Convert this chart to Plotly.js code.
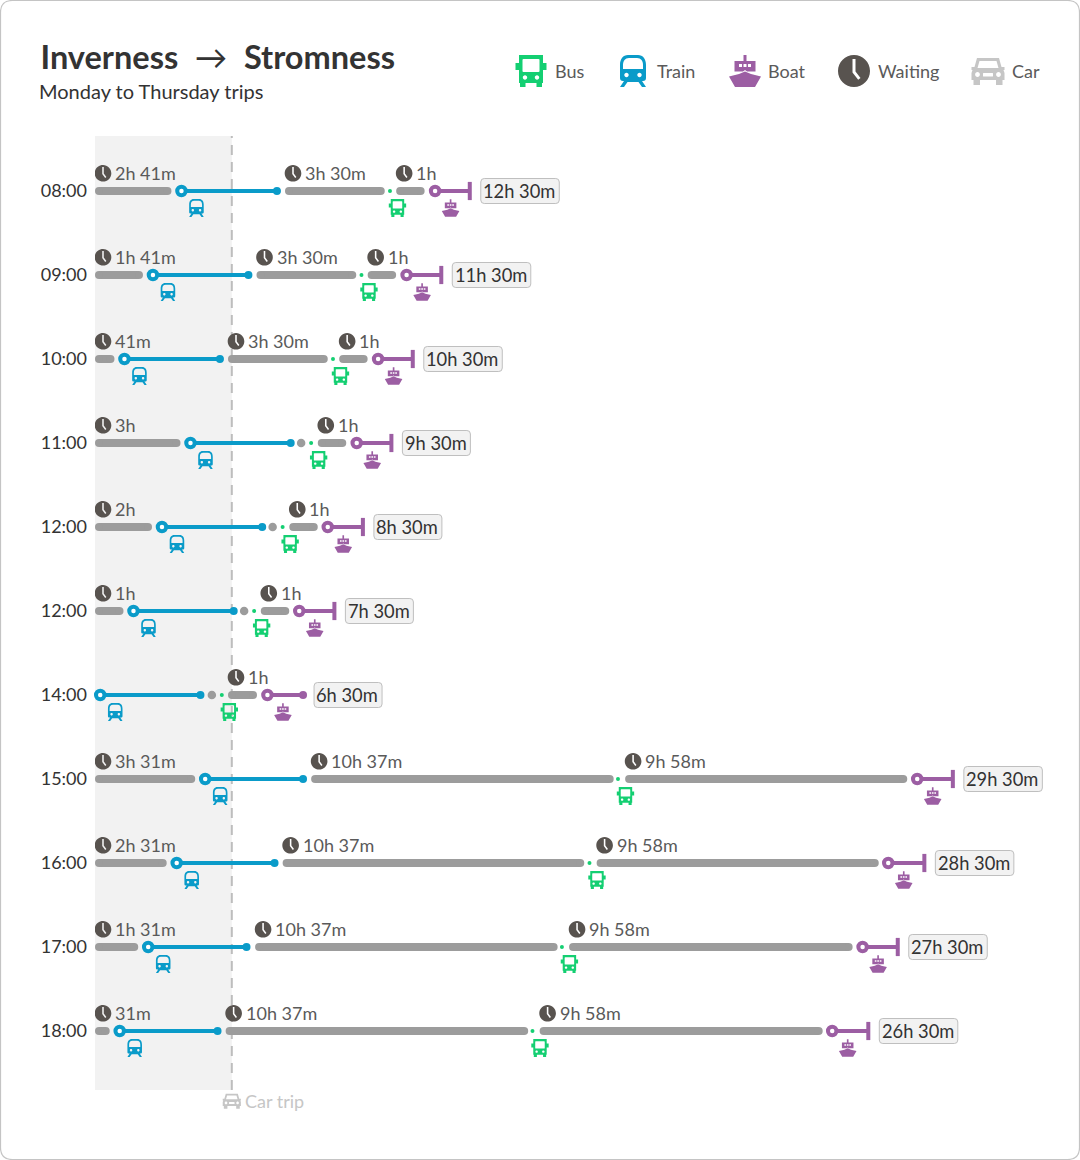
<!DOCTYPE html>
<html><head><meta charset="utf-8">
<script src="https://cdn.plot.ly/plotly-3.0.1.min.js"></script>
<style>html,body{margin:0;padding:0;background:#fff}#c{width:1080px;height:1160px}</style>
</head><body><div id="c"></div>
<script>
// ---- data (minutes since the start of each row) ----
const departures = ['08:00','09:00','10:00','11:00','12:00','12:00','14:00','15:00','16:00','17:00','18:00'];
const firstWaitEnd = [161,101,41,180,120,60,null,211,151,91,31];
const firstWaitLabel = ['2h 41m','1h 41m','41m','3h','2h','1h',null,'3h 31m','2h 31m','1h 31m','31m'];
const trainStart = [182,122,62,201,141,81,11,232,172,112,52];
const trainEnd = [383,323,263,412,352,292,222,438,378,319,258];
const midWaitStart = [400,340,280,null,null,null,null,455,395,337,275];
const midWaitEnd = [610,550,490,null,null,null,null,1092,1030,974,912];
const midWaitLabel = ['3h 30m','3h 30m','3h 30m',null,null,null,null,'10h 37m','10h 37m','10h 37m','10h 37m'];
const transferDot = [null,null,null,434,374,314,246,null,null,null,null];
const busDot = [621,561,501,455,395,335,267,1101,1041,983,921];
const lastWaitStart = [634,574,514,469,409,349,280,1116,1056,998,936];
const lastWaitEnd = [694,634,574,529,469,409,341,1710,1650,1595,1532];
const lastWaitLabel = ['1h','1h','1h','1h','1h','1h','1h','9h 58m','9h 58m','9h 58m','9h 58m'];
const boatStart = [716,656,596,551,490,430,363,1731,1670,1616,1552];
const boatEnd = [789,729,669,624,564,504,438,1806,1746,1690,1628];
const boatOpenEnd = [false,false,false,false,false,false,true,false,false,false,false];
const totals = ['12h 30m','11h 30m','10h 30m','9h 30m','8h 30m','7h 30m','6h 30m','29h 30m','28h 30m','27h 30m','26h 30m'];
const carTrip = 288;
const legendNames = ['Bus','Train','Boat','Waiting','Car'];

// ---- palette ----
const cBus='#14cf72', cTrain='#0a9bc9', cBoat='#9c5ea3', cClock='#58534f', cCar='#c6c6c6', cWait='#9c9c9c';
const cText='#5a5a5a', cDark='#333333';

// ---- geometry ----
const W=1080,H=1160,ML=95;
const pxPerMin=0.475;
const rowTop=191,rowStep=84;
const xr=[0,(W-ML)/pxPerMin];
const yr=[(H-rowTop)/rowStep,-rowTop/rowStep];
const capMin=4/pxPerMin;
const rows=departures.map((_,i)=>i);
const px=x=>(x-ML)/(W-ML), py=y=>1-y/H;

// ---- icon outlines, in a 32-unit box centred on 0,0, y upward ----
const K=0.5523;
const circ=(cx,cy,r)=>`M ${cx+r} ${cy} C ${cx+r} ${cy+K*r} ${cx+K*r} ${cy+r} ${cx} ${cy+r} C ${cx-K*r} ${cy+r} ${cx-r} ${cy+K*r} ${cx-r} ${cy} C ${cx-r} ${cy-K*r} ${cx-K*r} ${cy-r} ${cx} ${cy-r} C ${cx+K*r} ${cy-r} ${cx+r} ${cy-K*r} ${cx+r} ${cy} Z `;
const poly=(...p)=>'M '+p.map(q=>q.join(' ')).join(' L ')+' Z ';
const rrect=(x0,y0,x1,y1,r)=>`M ${x0+r} ${y0} L ${x1-r} ${y0} Q ${x1} ${y0} ${x1} ${y0+r} L ${x1} ${y1-r} Q ${x1} ${y1} ${x1-r} ${y1} L ${x0+r} ${y1} Q ${x0} ${y1} ${x0} ${y1-r} L ${x0} ${y0+r} Q ${x0} ${y0} ${x0+r} ${y0} Z `;
const ICON={
 bus: poly([-12,16],[12,16],[12,8],[15.5,8],[15.5,1],[12,1],[12,-12],[11,-12],[11,-16],[5.5,-16],[5.5,-12],[-5.5,-12],[-5.5,-16],[-11,-16],[-11,-12],[-12,-12],[-12,1],[-15.5,1],[-15.5,8],[-12,8])
    +rrect(-8.5,-1,8.5,12,1)+circ(-6,-6.5,2.2)+circ(6,-6.5,2.2),
 train: 'M -13 6 C -13 12 -10 16 -5 16 L 5 16 C 10 16 13 12 13 6 L 13 -7 C 13 -9 12 -10 10 -10 L 9 -10 L 13 -16 L 9 -16 L 5.5 -11 L -5.5 -11 L -9 -16 L -13 -16 L -9 -10 L -10 -10 C -12 -10 -13 -9 -13 -7 Z '
    +'M -10 2 L 10 2 L 10 6 C 10 10 8 13 4 13 L -4 13 C -8 13 -10 10 -10 6 Z '+circ(-6.5,-4,2.2)+circ(6.5,-4,2.2),
 boat: poly([-1.5,16],[1.5,16],[1.5,10],[10.5,10],[10.5,-0.5],[2,-0.5],[0,1],[-2,-0.5],[-10.5,-0.5],[-10.5,10],[-1.5,10])
    +rrect(-6,4,-3,7,0.3)+rrect(-1.5,4,1.5,7,0.3)+rrect(3,4,6,7,0.3)
    +poly([-16,-5.5],[-6,-3],[0,-0.5],[6,-3],[16,-5.5],[10,-16],[-10,-16]),
 clock: circ(0,0,16)+poly([-1.5,12],[1.5,12],[1.5,-0.5],[6.5,-7],[4.2,-8.8],[-1.5,-1.5]),
 car: poly([-11,13],[11,13],[13.5,4],[16.5,4],[16.5,1],[15.5,1],[16.5,-2],[16.5,-9],[14.5,-9],[14.5,-14],[8,-14],[8,-9],[-8,-9],[-8,-14],[-14.5,-14],[-14.5,-9],[-16.5,-9],[-16.5,-2],[-15.5,1],[-16.5,1],[-16.5,4],[-13.5,4])
    +poly([-8.5,10],[8.5,10],[10.5,3],[-10.5,3])+rrect(-5,-5.5,5,-2,0.5)+circ(-10.5,-3.5,2.4)+circ(10.5,-3.5,2.4)
};
const place=(d,s,dx,dy)=>d.replace(/(-?[\d.]+) (-?[\d.]+)/g,(m,a,b)=>(+a*s+dx).toFixed(2)+' '+(+b*s+dy).toFixed(2));
const shapes=[], annotations=[];
function iconAt(name,color,s,xref,xa,yref,ya,dx,dy){
  shapes.push({type:'path',layer:'above',xref,yref,xsizemode:'pixel',ysizemode:'pixel',xanchor:xa,yanchor:ya,
    path:place(ICON[name],s,dx,dy),fillcolor:color,line:{width:0}});
}
const rowIcon=(n,c,s,x,r,dx,dy)=>iconAt(n,c,s,'x',x,'y',r,dx,dy);
const pageIcon=(n,c,s,x,y)=>iconAt(n,c,s,'paper',px(x),'paper',py(y),0,0);
function anno(text,x,y,size,color,anchor,extra){
  annotations.push(Object.assign({text,x,y,xref:'paper',yref:'paper',xanchor:anchor||'left',yanchor:'middle',showarrow:false,
    font:{family:'Lato',size,color}},extra||{}));
}
function rowText(text,x,r,dx,dy,size,color,anchor){
  annotations.push({text,x,y:r,xref:'x',yref:'y',xanchor:anchor||'left',yanchor:'middle',xshift:dx,yshift:dy,showarrow:false,
    font:{family:'Lato',size,color}});
}
function clockLabel(text,x,r){
  if(text===null) return;
  rowIcon('clock',cClock,0.52,x,r,8,17.7);
  rowText(text,x,r,18,18.5,18,cText);
}

// ---- background band, card ----
shapes.push({type:'path',layer:'below',xref:'paper',yref:'paper',xsizemode:'pixel',ysizemode:'pixel',xanchor:px(0),yanchor:py(H),
  path:rrect(0.5,0.5,W-0.5,H-0.5,12),fillcolor:'#ffffff',line:{color:'#c4c4c4',width:1.2}});
shapes.push({type:'rect',layer:'below',xref:'x',yref:'paper',x0:0,x1:carTrip,y0:py(1090),y1:py(136),fillcolor:'#f2f2f2',line:{width:0}});
shapes.push({type:'line',layer:'below',xref:'x',yref:'paper',x0:carTrip,x1:carTrip,y0:py(1090),y1:py(136),line:{color:'#bdbdbd',width:2,dash:'10px,7px'}});

// ---- per-row icons and texts ----
rows.forEach(i=>{
  clockLabel(firstWaitLabel[i],0,i);
  clockLabel(midWaitLabel[i],midWaitStart[i],i);
  clockLabel(lastWaitLabel[i],lastWaitStart[i],i);
  rowIcon('train',cTrain,0.56,trainStart[i],i,15,-17);
  rowIcon('bus',cBus,0.56,busDot[i],i,7.5,-17);
  rowIcon('boat',cBoat,0.55,boatStart[i],i,15.5,-17);
  const w=totals[i].length===7?78.5:68, gap=11;
  shapes.push({type:'path',layer:'above',xref:'x',yref:'y',xsizemode:'pixel',ysizemode:'pixel',xanchor:boatEnd[i],yanchor:i,
    path:rrect(gap,-12.5,gap+w,12.5,3.5),fillcolor:'#f2f2f2',line:{color:'#bfbfbf',width:1}});
  rowText(totals[i],boatEnd[i],i,gap+w/2-0.7,0,18.3,cDark,'center');
});

// ---- car trip note ----
iconAt('car',cCar,0.55,'x',carTrip,'paper',py(1101),0,0);
rowText('Car trip',carTrip,0,0,0,18,cCar);
annotations[annotations.length-1].yref='paper';
annotations[annotations.length-1].y=py(1101);
annotations[annotations.length-1].xshift=11;

// ---- header ----
anno('Monday to Thursday trips',px(37),py(91.5),20,cDark);
// ---- legend ----
pageIcon('bus',cBus,1,531,71);
pageIcon('train',cTrain,1,633,71);
pageIcon('boat',cBoat,1,745,71);
pageIcon('clock',cClock,1,854,71);
pageIcon('car',cCar,1,988,71);
[552.5,655,766,876,1010].forEach((x,k)=>anno(legendNames[k],px(x),py(70.7),18,cText));

// ---- traces ----
function segs(a,b){
  const xs=[],ys=[];
  a.forEach((v,i)=>{ if(v===null) return; xs.push(v,b[i],null); ys.push(i,i,null); });
  return {xs,ys};
}
const capped=(a,b)=>[a.map(v=>v===null?null:v+capMin),b.map(v=>v===null?null:v-capMin)];
const firstStart=firstWaitEnd.map(v=>v===null?null:0);
const waits=[[firstStart,firstWaitEnd],[midWaitStart,midWaitEnd],[lastWaitStart,lastWaitEnd]];
const xw=[],yw=[];
waits.forEach(([a,b])=>{const [ca,cb]=capped(a,b);const s=segs(ca,cb);xw.push(...s.xs);yw.push(...s.ys);});
const tr=segs(trainStart,trainEnd), bo=segs(boatStart,boatEnd);
const pts=(arr)=>{const x=[],y=[];arr.forEach((v,i)=>{if(v!==null){x.push(v);y.push(i);}});return{x,y};};
const transfer=pts(transferDot), bus=pts(busDot);
const closedEnd=pts(boatEnd.map((v,i)=>boatOpenEnd[i]?null:v));
const openEnd=pts(boatEnd.map((v,i)=>boatOpenEnd[i]?v:null));
const base={type:'scatter',cliponaxis:false,hoverinfo:'skip',showlegend:false};
const data=[
 Object.assign({},base,{mode:'lines+markers',x:xw,y:yw,line:{color:cWait,width:8},marker:{color:cWait,size:8,line:{width:0}}}),
 Object.assign({},base,{mode:'markers',x:transfer.x,y:transfer.y,marker:{color:cWait,size:8.5,line:{width:0}}}),
 Object.assign({},base,{mode:'markers',x:bus.x,y:bus.y,marker:{color:cBus,size:4,line:{width:0}}}),
 Object.assign({},base,{mode:'lines',x:tr.xs,y:tr.ys,line:{color:cTrain,width:4}}),
 Object.assign({},base,{mode:'markers',x:trainEnd,y:rows,marker:{color:cTrain,size:8,line:{width:0}}}),
 Object.assign({},base,{mode:'markers',x:trainStart,y:rows,marker:{color:'#fff',size:8.5,line:{color:cTrain,width:4}}}),
 Object.assign({},base,{mode:'lines',x:bo.xs,y:bo.ys,line:{color:cBoat,width:4}}),
 Object.assign({},base,{mode:'markers',x:boatStart,y:rows,marker:{color:'#fff',size:8.5,line:{color:cBoat,width:4}}}),
 Object.assign({},base,{mode:'markers',x:closedEnd.x,y:closedEnd.y,marker:{symbol:'line-ns',size:13,color:cBoat,line:{color:cBoat,width:4}}}),
 Object.assign({},base,{mode:'markers',x:openEnd.x,y:openEnd.y,marker:{color:cBoat,size:8,line:{width:0}}})
];
const layout={
 width:W,height:H,margin:{l:ML,r:0,t:0,b:0,pad:0},autosize:false,
 paper_bgcolor:'#ffffff',plot_bgcolor:'rgba(0,0,0,0)',showlegend:false,hovermode:false,
 font:{family:'Lato',color:cDark},
 title:{text:'<b>Inverness</b>\u00a0\u00a0→\u00a0\u00a0<b>Stromness</b>',x:40.5/W,xanchor:'left',xref:'container',y:1-57.5/H,yanchor:'middle',yref:'container',font:{family:'Lato',size:32.5,color:cDark}},
 xaxis:{range:xr,visible:false,fixedrange:true},
 yaxis:{range:yr,tickmode:'array',tickvals:rows,ticktext:departures,tickfont:{family:'Lato',size:18,color:cDark},
   showgrid:false,zeroline:false,showline:false,ticks:'',ticklen:0,ticklabelstandoff:7,fixedrange:true,automargin:false},
 shapes,annotations
};
Plotly.newPlot('c',data,layout,{displayModeBar:false,staticPlot:true});
</script></body></html>
